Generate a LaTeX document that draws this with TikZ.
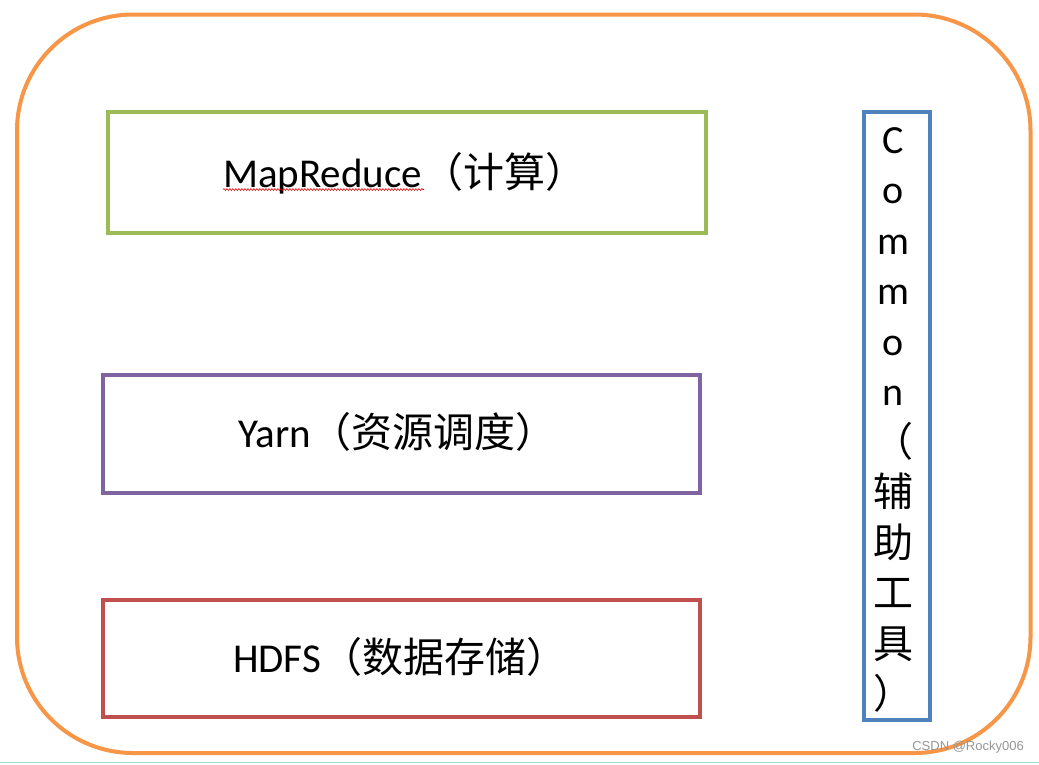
\documentclass[tikz,border=0pt]{standalone}
\usepackage{fontspec}
\setmainfont{Carlito}
\newfontfamily\cjk{Noto Sans CJK SC}
\newfontfamily\wmfont{Liberation Sans}
\usetikzlibrary{decorations.pathmorphing}
\newcommand\cjkbox[2][c]{\makebox[41pt][#1]{#2}}
\definecolor{frameorange}{RGB}{247,150,70}
\definecolor{boxgreen}{RGB}{155,187,89}
\definecolor{boxpurple}{RGB}{128,100,162}
\definecolor{boxred}{RGB}{192,80,77}
\definecolor{boxblue}{RGB}{79,129,189}
\definecolor{wmgray}{RGB}{150,150,150}
\definecolor{striptea}{RGB}{170,214,204}
\tikzset{
  layerbox/.style={draw=#1, line width=4pt},
  label/.style={font=\fontsize{41}{41}\selectfont, anchor=base west, inner sep=0pt},
  colchar/.style={font=\fontsize{40}{40}\selectfont, anchor=base, inner sep=0pt},
}
\begin{document}
\begin{tikzpicture}[x=1pt,y=-1pt]
\useasboundingbox (0,0) rectangle (1039,764);
\fill[white] (0,0) rectangle (1039,764);
% outer frame
\draw[frameorange, line width=4pt, rounded corners=116pt] (17,14.5) rectangle (1030.5,753);
% layer boxes
\draw[layerbox=boxgreen] (108,112) rectangle (705.5,232.5);
\draw[layerbox=boxpurple] (103,375) rectangle (699.5,492.5);
\draw[layerbox=boxred] (103,599.5) rectangle (699.5,716.5);
\draw[layerbox=boxblue] (863.5,112) rectangle (929.5,720);
% labels
\node[label] (mr) at (223,187) {MapReduce{\cjk\cjkbox[r]{（}\cjkbox{计}\cjkbox{算}\cjkbox[l]{）}}};
\node[label] (yarn) at (238,447) {Yarn{\cjk\cjkbox[r]{（}\cjkbox{资}\cjkbox{源}\cjkbox{调}\cjkbox{度}\cjkbox[l]{）}}};
\node[label] (hdfs) at (233,672) {HDFS{\cjk\cjkbox[r]{（}\cjkbox{数}\cjkbox{据}\cjkbox{存}\cjkbox{储}\cjkbox[l]{）}}};
% spell-check wave
\coordinate (w1) at (223,189.5);
\coordinate (w2) at (424,189.5);
\draw[red!85!black, line width=0.6pt, decorate, decoration={snake, amplitude=0.9pt, segment length=3pt}] (w1) -- (w2);
% Common column
\foreach \ch [count=\i] in {C,o,m,m,o,n,{\cjk （},{\cjk 辅},{\cjk 助},{\cjk 工},{\cjk 具},{\cjk ）}}
  \node[colchar] (c\i) at (893,153+50.5*\i-50.5) {\ch};
% watermark
\node[font=\wmfont\fontsize{13}{13}\selectfont, text=wmgray, anchor=base east, inner sep=0pt] (wm) at (1024,750) {CSDN @Rocky006};
% bottom strip
\coordinate (s1) at (0,762.5);
\coordinate (s2) at (1039,762.5);
\draw[striptea, line width=1.5pt] (s1) -- (s2);
\end{tikzpicture}
\end{document}
